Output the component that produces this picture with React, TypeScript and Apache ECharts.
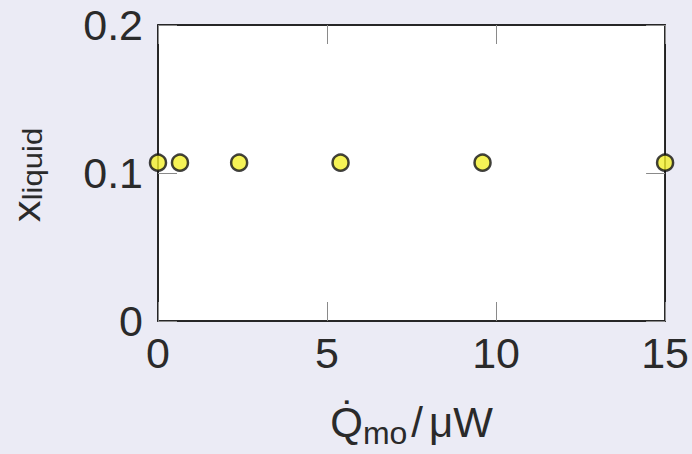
import React, { useEffect, useRef } from "react";
import * as echarts from "echarts";

const heatFlow = [0, 0.65, 2.4, 5.4, 9.6, 15];
const xLiquid = [0.107, 0.107, 0.107, 0.107, 0.107, 0.107];
const xTicks = [0, 5, 10, 15];
const yTicks = [0, 0.1, 0.2];

export default function App() {
  const ref = useRef<HTMLDivElement>(null);
  useEffect(() => {
    if (!ref.current) return;
    const chart = echarts.init(ref.current, undefined, { renderer: "svg" });
    const font = "'Liberation Sans', 'DejaVu Sans', sans-serif";
    const ink = "#2a2a2a";
    const tickStyle = { show: true, inside: true, length: 19, lineStyle: { color: "#8a8a8a", width: 1 } };
    const lineStyle = { show: true, onZero: false, lineStyle: { color: "#1a1a1a", width: 1.5 } };
    chart.setOption({
      animation: false,
      backgroundColor: "#ebebf5",
      grid: {
        left: 158,
        top: 25,
        width: 510,
        height: 297,
        show: true,
        backgroundColor: "#ffffff",
        borderColor: "#1a1a1a",
        borderWidth: 1.5,
      },
      graphic: [
        {
          type: "text",
          x: 27,
          y: 175,
          rotation: Math.PI / 2,
          scaleX: 1.15,
          style: {
            text: "{x|x}{s|liquid}",
            align: "center",
            verticalAlign: "middle",
            rich: {
              x: { fontSize: 38, fontFamily: font, fill: ink, verticalAlign: "bottom" },
              s: { fontSize: 27, fontFamily: font, fill: ink, verticalAlign: "bottom" },
            },
          },
        },
      ],
      xAxis: [
        {
          type: "value",
          min: xTicks[0],
          max: xTicks[xTicks.length - 1],
          interval: 5,
          position: "bottom",
          axisLine: lineStyle,
          axisTick: tickStyle,
          splitLine: { show: false },
          axisLabel: { fontSize: 43, fontFamily: font, color: ink, margin: 10 },
          name: "{q|Q̇}{s|mo}{g|/}{q|μW}",
          nameLocation: "middle",
          nameGap: 80,
          nameTextStyle: {
            rich: {
              q: { fontSize: 42, fontFamily: font, color: ink, verticalAlign: "bottom", padding: [0, 0, 6, 0] },
              g: { fontSize: 42, fontFamily: font, color: ink, verticalAlign: "bottom", padding: [0, 6, 6, 4] },
              s: { fontSize: 32, fontFamily: font, color: ink, verticalAlign: "bottom" },
            },
          },
        },
        {
          type: "value",
          min: xTicks[0],
          max: xTicks[xTicks.length - 1],
          interval: 5,
          position: "top",
          axisLine: lineStyle,
          axisTick: tickStyle,
          splitLine: { show: false },
          axisLabel: { show: false },
        },
      ],
      yAxis: [
        {
          type: "value",
          min: yTicks[0],
          max: yTicks[yTicks.length - 1],
          interval: 0.1,
          position: "left",
          axisLine: lineStyle,
          axisTick: tickStyle,
          splitLine: { show: false },
          axisLabel: {
            fontSize: 43,
            fontFamily: font,
            color: ink,
            margin: 15,
            formatter: (v: number) => (v === 0 ? "0" : v.toFixed(1)),
          },
        },
        {
          type: "value",
          min: yTicks[0],
          max: yTicks[yTicks.length - 1],
          interval: 0.1,
          position: "right",
          axisLine: lineStyle,
          axisTick: tickStyle,
          splitLine: { show: false },
          axisLabel: { show: false },
        },
      ],
      series: [
        {
          type: "scatter",
          xAxisIndex: 0,
          yAxisIndex: 0,
          data: heatFlow.map((x, i) => [x, xLiquid[i]]),
          symbol: "circle",
          symbolSize: 16,
          clip: false,
          itemStyle: { color: "#f4f02c", borderColor: "#111", borderWidth: 2.5 },
          z: 5,
        },
      ],
    });
    return () => chart.dispose();
  }, []);
  return (
    <div
      ref={ref}
      style={{ position: "fixed", left: 0, top: 0, width: 692, height: 454 }}
    />
  );
}
